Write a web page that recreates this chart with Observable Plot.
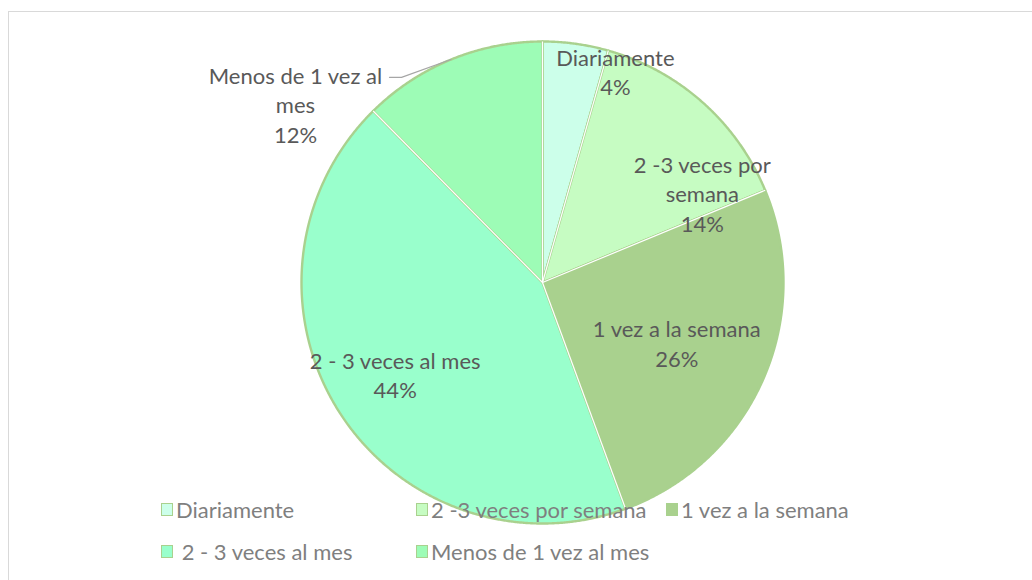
<!DOCTYPE html>
<html><head><meta charset="utf-8">
<script src="https://cdn.jsdelivr.net/npm/d3@7"></script>
<script src="https://cdn.jsdelivr.net/npm/@observablehq/plot@0.6"></script>
<style>
html,body{margin:0;padding:0;background:#fff;overflow:hidden}
#wrap{position:relative;width:1032px;height:580px;overflow:hidden;font-family:Lato,"Open Sans",sans-serif}
#frame{position:absolute;left:8px;top:11px;width:1100px;height:700px;border:1.5px solid #d9d9d9;box-sizing:border-box}
#chart{position:absolute;left:0;top:0}
#legend{position:absolute;left:161px;top:495px;display:grid;grid-template-columns:255px 250px 220px;row-gap:14px;font-size:22px;color:#7f7f7f}
.item{display:flex;align-items:center;white-space:pre;height:28px}
.sw{width:10px;height:11px;border:1.5px solid #a9d18e;margin-right:3px;flex:none}
</style></head>
<body><div id="wrap"><div id="frame"></div><div id="chart"></div><div id="legend"></div></div>
<script>
const categories = ["Diariamente", "2 -3 veces por semana", "1 vez a la semana", " 2 - 3 veces al mes", "Menos de 1 vez al mes"];
const labelLines = ["Diariamente", "2 -3 veces por\nsemana", "1 vez a la semana", "2 - 3 veces al mes", "Menos de 1 vez al\nmes"];
const values = [4.4, 14.35, 25.65, 43.2, 12.4];
const pctLabels = ["4%", "14%", "26%", "44%", "12%"];
const colors = ["#ccffea", "#c6fcc2", "#a9d18e", "#99ffcc", "#9dfcb6"];
const labelShiftDeg = [11.1, 19.1, 0.4, 0.5, -31.8];
const labelRadius = [0.928, 0.76, 0.61, 0.72, 1.265];

const W = 1032, H = 580, cx = 542, cy = 282, R = 241;
const arcs = d3.pie().sort(null).value(d => d)(values);
const polar = (a, r) => ({u: r * Math.sin(a), v: r * Math.cos(a)});

const poly = [];
arcs.forEach((a, i) => {
  poly.push({k: i, ...polar(0, 0), c: colors[i]});
  const n = Math.max(4, Math.ceil((a.endAngle - a.startAngle) / 0.005));
  for (let j = 0; j <= n; j++) {
    const t = a.startAngle + (a.endAngle - a.startAngle) * j / n;
    poly.push({k: i, ...polar(t, 1), c: colors[i]});
  }
  poly.push({k: i, ...polar(0, 0), c: colors[i]});
});
const seps = arcs.map(a => ({...polar(a.startAngle, 1)}));

const labels = arcs.map((a, i) => {
  const mid = (a.startAngle + a.endAngle) / 2;
  const p = polar(mid + labelShiftDeg[i] * Math.PI / 180, labelRadius[i]);
  return {...p, text: labelLines[i] + "\n" + pctLabels[i], mid, outside: labelRadius[i] > 1, i};
});
const leaders = [];
labels.filter(d => d.outside).forEach(d => {
  const s = polar(d.mid, 1);
  leaders.push({k: d.i, u: s.u, v: s.v});
  leaders.push({k: d.i, u: d.u + 0.44, v: d.v + 0.11});
  leaders.push({k: d.i, u: d.u + 0.39, v: d.v + 0.11});
});

const chart = Plot.plot({
  width: W, height: H,
  margin: 0,
  x: {domain: [-cx / R, (W - cx) / R], axis: null},
  y: {domain: [-(H - cy) / R, cy / R], axis: null},
  color: {type: "identity"},
  marks: [
    Plot.line(poly, {x: "u", y: "v", z: "k", fill: "c", stroke: "#a9d18e", strokeWidth: 2.4, strokeLinejoin: "round"}),
    Plot.link(seps, {x1: 0, y1: 0, x2: "u", y2: "v", stroke: "white", strokeWidth: 1.2}),
    Plot.line(leaders, {x: "u", y: "v", z: "k", stroke: "#a6a6a6", strokeWidth: 1.2}),
    Plot.text(labels, {x: "u", y: "v", text: "text", fontSize: 22, lineHeight: 1.34, fill: "#595959", fontFamily: "Lato"})
  ]
});
document.getElementById("chart").appendChild(chart);

const leg = document.getElementById("legend");
categories.forEach((c, i) => {
  const it = document.createElement("div");
  it.className = "item";
  const sw = document.createElement("span");
  sw.className = "sw";
  sw.style.background = colors[i];
  it.appendChild(sw);
  it.appendChild(document.createTextNode(c));
  leg.appendChild(it);
});
</script></body></html>
